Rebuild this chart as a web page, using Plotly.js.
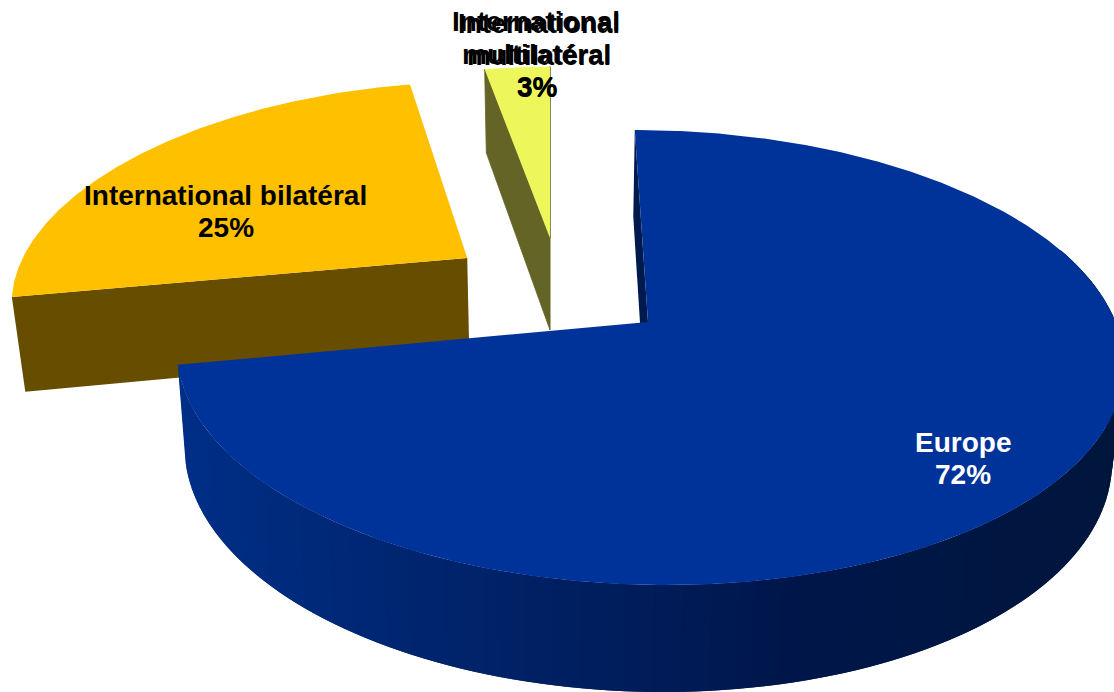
<!DOCTYPE html>
<html>
<head>
<meta charset="utf-8">
<script src="https://cdn.plot.ly/plotly-3.0.1.min.js"></script>
<style>html,body{margin:0;padding:0;background:#fff;overflow:hidden}#chart{width:1114px;height:692px}</style>
</head>
<body>
<div id="chart"></div>
<script>
// Répartition des projets par type de coopération
const categories = ["Europe", "International bilatéral", "International multilatéral"];
const shares = [72, 25, 3];
const topColors = ["#003399", "#FFC000", "#EDF75B"];
const wallColors = ["#001A4D", "#664D00", "#636425"];
const labelColors = ["#FFFFFF", "#000000", "#000000"];

// Pulled-out position of every slice on the pie's ground plane
const slideAcross = [0.2096, -0.1875, 0];
const slideBack = [0, 0.302, 0.402];
// Extra narrowing of the far end of each pulled-out slice, and its width
const narrowing = [0, 0.25, 0.5];
const widening = [1, 1.007, 1];

// Perspective camera
const CAM_X = 550, CAM_Y = 322, SCALE_X = 467.6, SCALE_Y = 222;
const TILT = 0.1561, DROP = 98, SINK = 0.0208;

function project(i, across, back, lower) {
  const w = 1 + TILT * back + (lower ? SINK : 0);
  return [CAM_X + SCALE_X * across / Math.pow(w, 1 + narrowing[i]),
          CAM_Y + (-SCALE_Y * back + (lower ? DROP : 0)) / w];
}
function rimPoint(i, deg, lower) {
  const a = deg * Math.PI / 180;
  return project(i, slideAcross[i] + widening[i] * Math.sin(a), slideBack[i] + Math.cos(a), lower);
}
function centrePoint(i, lower) {
  return project(i, slideAcross[i], slideBack[i], lower);
}
function arc(i, from, to, lower) {
  const n = Math.max(2, Math.ceil(Math.abs(to - from) * 2)), pts = [];
  for (let k = 0; k <= n; k++) pts.push(rimPoint(i, from + (to - from) * k / n, lower));
  return pts;
}
function polygon(points, color, lineWidth) {
  return {
    type: "scatter", mode: "lines", hoverinfo: "skip", showlegend: false,
    x: points.map(p => p[0]), y: points.map(p => p[1]),
    fill: "toself", fillcolor: color,
    line: {color: color, width: lineWidth || 0}
  };
}
function flatWall(i, deg, lineWidth) {
  return polygon([centrePoint(i, false), rimPoint(i, deg, false), rimPoint(i, deg, true), centrePoint(i, true)],
    wallColors[i], lineWidth);
}

// Shading of the curved wall of the large slice, from left to right on screen
const shadeX = [180, 300, 550, 800, 1114];
const shadeRGB = [[0, 47, 136], [0, 42, 123], [0, 32, 99], [0, 22, 74], [0, 22, 60]];
function shadeAt(x) {
  let k = 0;
  while (k < shadeX.length - 2 && x > shadeX[k + 1]) k++;
  const t = Math.min(1, Math.max(0, (x - shadeX[k]) / (shadeX[k + 1] - shadeX[k])));
  const c = shadeRGB[k].map((v, j) => Math.round(v + (shadeRGB[k + 1][j] - v) * t));
  return "rgb(" + c.join(",") + ")";
}

// Slice boundaries in degrees, clockwise from the back of the pie
const starts = [], ends = [];
shares.reduce((sum, s, i) => { starts[i] = sum * 3.6; ends[i] = (sum + s) * 3.6; return sum + s; }, 0);

const traces = [];

// International bilatéral: only the cut face turned to the viewer shows
traces.push(flatWall(1, starts[1]));
traces.push(polygon([centrePoint(1, false)].concat(arc(1, starts[1], ends[1], false)), topColors[1]));

// International multilatéral: the cut face on the left, the other seen edge-on
traces.push(flatWall(2, starts[2], 0.8));
traces.push(flatWall(2, ends[2], 1));
traces.push(polygon([centrePoint(2, false)].concat(arc(2, starts[2], ends[2], false)), topColors[2]));

// Europe: the sliver of its first cut face, the curved wall in overlapping strips, the top
traces.push(flatWall(0, starts[0]));
const stripStep = 1.5;
for (let d = ends[0] - stripStep; d >= 70; d -= stripStep) {
  const near = Math.max(d - stripStep, 70);
  const strip = [rimPoint(0, near, false), rimPoint(0, d + stripStep, false), rimPoint(0, d + stripStep, true), rimPoint(0, near, true)];
  traces.push(polygon(strip, shadeAt(rimPoint(0, d, true)[0])));
}
traces.push(polygon([centrePoint(0, false)].concat(arc(0, starts[0], ends[0], false)), topColors[0]));

// Slice captions, each line placed on its own
function caption(text, x, y, color, size) {
  return {text: text, x: x, y: y, xref: "x", yref: "y", showarrow: false, xanchor: "center", yanchor: "middle",
    font: {family: "Liberation Sans, Arial, sans-serif", size: size || 28, color: color}};
}
const bold = t => "<b>" + t + "</b>";
const pct = i => bold(shares[i] + "%");
const annotations = [
  caption(bold(categories[0]), 963, 442, labelColors[0]),
  caption(pct(0), 963, 474, labelColors[0]),
  caption(bold(categories[1]), 225, 195, labelColors[1]),
  caption(pct(1), 226, 227, labelColors[1]),
  // this caption is printed twice, very slightly out of register
  caption(bold("International"), 535.5, 21, labelColors[2]),
  caption(bold("multilatéral"), 536.5, 54, labelColors[2]),
  caption(pct(2), 537, 86, labelColors[2]),
  caption(bold("International"), 539, 24, labelColors[2], 27),
  caption(bold("multilatéral"), 539, 56, labelColors[2], 27),
  caption(pct(2), 537, 87, labelColors[2])
];

Plotly.newPlot("chart", traces, {
  width: 1114, height: 692,
  margin: {l: 0, r: 0, t: 0, b: 0},
  paper_bgcolor: "#FFFFFF", plot_bgcolor: "#FFFFFF",
  showlegend: false,
  xaxis: {range: [0, 1114], visible: false, fixedrange: true},
  yaxis: {range: [692, 0], visible: false, fixedrange: true},
  annotations: annotations
}, {staticPlot: true, displayModeBar: false});
</script>
</body>
</html>
